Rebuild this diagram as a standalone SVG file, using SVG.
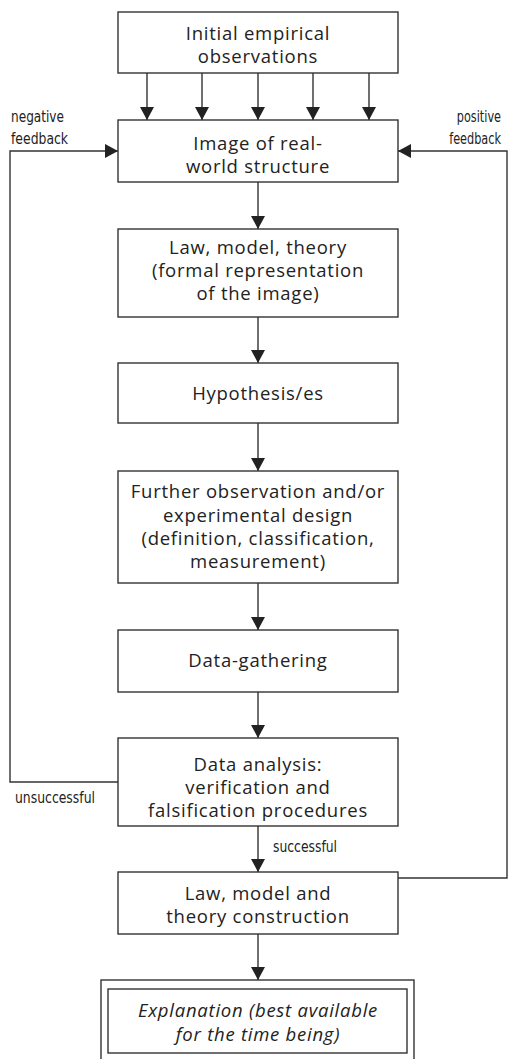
<svg xmlns="http://www.w3.org/2000/svg" width="509" height="1059" viewBox="0 0 509 1059">
  <defs>
    <marker id="arrow" viewBox="0 0 13 14" refX="13" refY="7" markerWidth="13" markerHeight="14" markerUnits="userSpaceOnUse" orient="auto">
      <path d="M0,0 L13,7 L0,14 Z" fill="#222"/>
    </marker>
    <style>
      .box { fill: #fff; stroke: #333; stroke-width: 1.4; }
      .t { font-family: "Open Sans", Lato, sans-serif; font-size: 18.5px; letter-spacing: 0.75px; fill: #222; text-anchor: middle; }
      .it { font-style: italic; }
      .lbl { font-family: "DejaVu Sans Condensed", "Liberation Sans", sans-serif; font-size: 16.5px; fill: #222; }
      .end { text-anchor: end; }
      .conn { fill: none; stroke: #333; stroke-width: 1.4; }
      .ar { marker-end: url(#arrow); }
    </style>
  </defs>

  <!-- connectors -->
  <g id="connectors">
    <line class="conn ar" x1="147" y1="73" x2="147" y2="120"/>
    <line class="conn ar" x1="202" y1="73" x2="202" y2="120"/>
    <line class="conn ar" x1="258" y1="73" x2="258" y2="120"/>
    <line class="conn ar" x1="313" y1="73" x2="313" y2="120"/>
    <line class="conn ar" x1="369" y1="73" x2="369" y2="120"/>
    <line class="conn ar" x1="258" y1="182" x2="258" y2="229"/>
    <line class="conn ar" x1="258" y1="317" x2="258" y2="363"/>
    <line class="conn ar" x1="258" y1="423" x2="258" y2="471"/>
    <line class="conn ar" x1="258" y1="583" x2="258" y2="630"/>
    <line class="conn ar" x1="258" y1="692" x2="258" y2="738"/>
    <line class="conn ar" x1="258" y1="826" x2="258" y2="872"/>
    <line class="conn ar" x1="258" y1="934" x2="258" y2="980"/>
    <!-- negative feedback loop -->
    <polyline class="conn ar" points="118,782 10,782 10,151 118,151"/>
    <!-- positive feedback loop -->
    <polyline class="conn ar" points="398,878 507,878 507,151 398,151"/>
  </g>

  <!-- loop labels -->
  <g id="labels">
    <text class="lbl" x="11" y="122" textLength="53" lengthAdjust="spacingAndGlyphs">negative</text>
    <text class="lbl" x="11" y="144" textLength="57" lengthAdjust="spacingAndGlyphs">feedback</text>
    <text class="lbl end" transform="translate(501,122) scale(0.76,1)">positive</text>
    <text class="lbl end" transform="translate(501,144) scale(0.76,1)">feedback</text>
    <text class="lbl" x="15" y="803" textLength="80" lengthAdjust="spacingAndGlyphs">unsuccessful</text>
    <text class="lbl" x="273" y="852" textLength="64" lengthAdjust="spacingAndGlyphs">successful</text>
  </g>

  <g id="n1">
    <rect class="box" x="118" y="12" width="280" height="61"/>
    <text class="t" x="258" y="40">Initial empirical</text>
    <text class="t" x="258" y="63">observations</text>
  </g>
  <g id="n2">
    <rect class="box" x="118" y="120" width="280" height="62"/>
    <text class="t" x="258" y="150">Image of real-</text>
    <text class="t" x="258" y="173">world structure</text>
  </g>
  <g id="n3">
    <rect class="box" x="118" y="229" width="280" height="88"/>
    <text class="t" x="258" y="254">Law, model, theory</text>
    <text class="t" x="258" y="277">(formal representation</text>
    <text class="t" x="258" y="300">of the image)</text>
  </g>
  <g id="n4">
    <rect class="box" x="118" y="363" width="280" height="60"/>
    <text class="t" x="258" y="400">Hypothesis/es</text>
  </g>
  <g id="n5">
    <rect class="box" x="118" y="471" width="280" height="112"/>
    <text class="t" x="258" y="498">Further observation and/or</text>
    <text class="t" x="258" y="522">experimental design</text>
    <text class="t" x="258" y="545">(definition, classification,</text>
    <text class="t" x="258" y="568">measurement)</text>
  </g>
  <g id="n6">
    <rect class="box" x="118" y="630" width="280" height="62"/>
    <text class="t" x="258" y="667">Data-gathering</text>
  </g>
  <g id="n7">
    <rect class="box" x="118" y="738" width="280" height="88"/>
    <text class="t" x="258" y="771">Data analysis:</text>
    <text class="t" x="258" y="794">verification and</text>
    <text class="t" x="258" y="817">falsification procedures</text>
  </g>
  <g id="n8">
    <rect class="box" x="118" y="872" width="280" height="62"/>
    <text class="t" x="258" y="900">Law, model and</text>
    <text class="t" x="258" y="923">theory construction</text>
  </g>
  <g id="n9">
    <rect class="box" x="101" y="980" width="313" height="84"/>
    <rect class="box" x="108" y="989" width="299" height="64"/>
    <text class="t it" x="258" y="1017">Explanation (best available</text>
    <text class="t it" x="258" y="1041">for the time being)</text>
  </g>
</svg>
